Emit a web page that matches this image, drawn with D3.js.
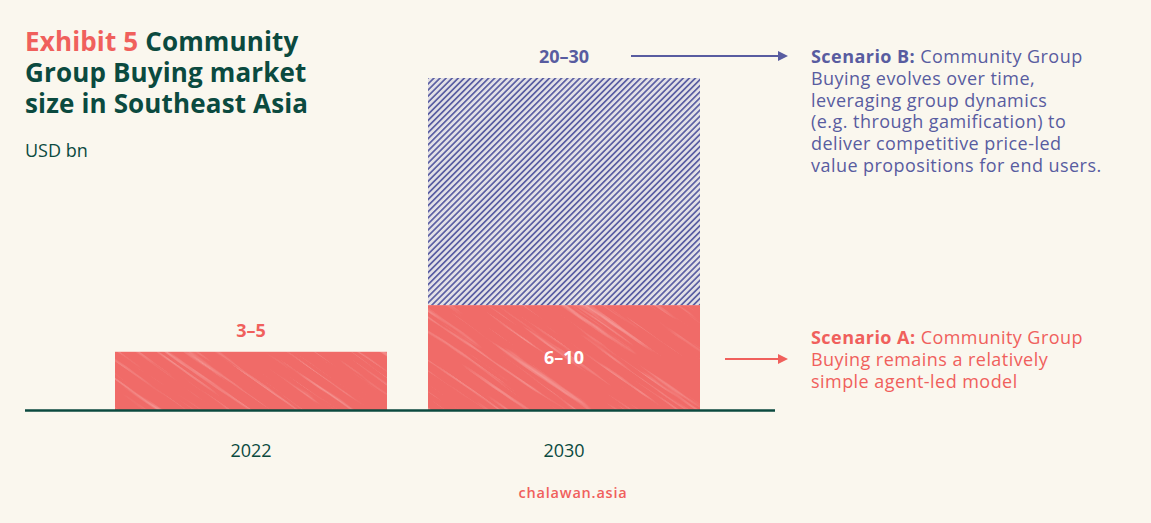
<!DOCTYPE html>
<html>
<head>
<meta charset="utf-8">
<script src="https://cdn.jsdelivr.net/npm/d3@7"></script>
<style>
  html, body { margin: 0; padding: 0; background: #faf7ee; }
  svg { display: block; font-family: "Open Sans", "Noto Sans", sans-serif; }
</style>
</head>
<body>
<svg id="chart"></svg>
<script>
// Data (USD bn, bar heights at range midpoints)
const years = ["2022", "2030"];
const scenarioA = [4.4, 7.9];      // base bar
const scenarioB = [0, 17.1];       // upside stacked on top
const labelsA = ["3–5", "6–10"];
const labelB = "20–30";
const titleLines = [
  [{ t: "Exhibit 5 ", c: "#f0605c" }, { t: "Community", c: "#0b4a3f" }],
  [{ t: "Group Buying market", c: "#0b4a3f" }],
  [{ t: "size in Southeast Asia", c: "#0b4a3f" }]
];
const noteB = [
  ["Scenario B:", " Community Group"],
  ["", "Buying evolves over time,"],
  ["", "leveraging group dynamics"],
  ["", "(e.g. through gamification) to"],
  ["", "deliver competitive price-led"],
  ["", "value propositions for end users."]
];
const noteA = [
  ["Scenario A:", " Community Group"],
  ["", "Buying remains a relatively"],
  ["", "simple agent-led model"]
];

const W = 1151, H = 523;
const green = "#0b4a3f", coral = "#f0605c", blue = "#585ca0";

const svg = d3.select("#chart").attr("width", W).attr("height", H);
svg.append("rect").attr("width", W).attr("height", H).attr("fill", "#faf7ee");

const defs = svg.append("defs");

// diagonal hatch for scenario B
const hatch = defs.append("pattern")
  .attr("id", "hatch")
  .attr("patternUnits", "userSpaceOnUse")
  .attr("width", 4.3).attr("height", 4.3)
  .attr("patternTransform", "rotate(45)");
hatch.append("rect").attr("width", 4.3).attr("height", 4.3).attr("fill", "#e2e0e6");
hatch.append("rect").attr("width", 1.7).attr("height", 4.3).attr("fill", "#5b5fa3");

// chalky streak texture for the coral bars
const f = defs.append("filter").attr("id", "streaks")
  .attr("x", 0).attr("y", 0).attr("width", 1).attr("height", 1);
f.append("feTurbulence").attr("type", "fractalNoise")
  .attr("baseFrequency", "0.008 0.25").attr("numOctaves", 4).attr("seed", 11);
f.append("feColorMatrix").attr("type", "matrix")
  .attr("values", "0 0 0 0 1  0 0 0 0 1  0 0 0 0 1  4 0 0 0 -2.3");

const x = d3.scaleBand()
  .domain(years)
  .range([94.5, 720.5])
  .paddingInner(0.131)
  .paddingOuter(0.0655);

const y = d3.scaleLinear()
  .domain([0, 25])
  .range([410, 78]);

const stacked = years.map((yr, i) => ({
  year: yr, a: scenarioA[i], b: scenarioB[i], label: labelsA[i]
}));

// scenario A bars
const barsA = svg.append("g");
stacked.forEach((d, i) => {
  const bx = x(d.year), bw = x.bandwidth();
  const by = y(d.a), bh = y(0) - y(d.a);
  const clipId = "clipA" + i;
  defs.append("clipPath").attr("id", clipId)
    .append("rect").attr("x", bx).attr("y", by).attr("width", bw).attr("height", bh);
  const g = barsA.append("g").attr("clip-path", `url(#${clipId})`);
  g.append("rect").attr("x", bx).attr("y", by).attr("width", bw).attr("height", bh)
    .attr("fill", "#f06b68");
  const cx = bx + bw / 2, cy = by + bh / 2;
  g.append("g").attr("transform", `rotate(35 ${cx} ${cy})`)
    .append("rect")
    .attr("x", cx - 300).attr("y", cy - 300).attr("width", 600).attr("height", 600)
    .attr("filter", "url(#streaks)").attr("opacity", 0.28);
});

// scenario B hatched upside
svg.append("g").selectAll("rect")
  .data(stacked.filter(d => d.b > 0))
  .join("rect")
  .attr("x", d => x(d.year))
  .attr("width", x.bandwidth())
  .attr("y", d => y(d.a + d.b))
  .attr("height", d => y(d.a) - y(d.a + d.b))
  .attr("fill", "url(#hatch)");

// baseline
svg.append("line")
  .attr("x1", 25).attr("x2", 775)
  .attr("y1", y(0) + 0.5).attr("y2", y(0) + 0.5)
  .attr("stroke", green).attr("stroke-width", 2.5);

// x axis labels
const xAxis = svg.append("g")
  .attr("transform", `translate(0, ${y(0)})`)
  .call(d3.axisBottom(x).tickSize(0).tickPadding(34));
xAxis.select(".domain").remove();
xAxis.selectAll("text")
  .attr("font-size", 18).attr("fill", green)
  .attr("font-family", "'Open Sans', sans-serif");

// value labels
const valueText = (tx, ty, color, txt) => svg.append("text")
  .attr("x", tx).attr("y", ty)
  .attr("text-anchor", "middle").attr("font-size", 18).attr("font-weight", 700)
  .attr("fill", color).text(txt);
valueText(x("2022") + x.bandwidth() / 2, y(scenarioA[0]) - 15, coral, labelsA[0]);
valueText(x("2030") + x.bandwidth() / 2, (y(scenarioA[1]) + y(0)) / 2 + 6, "#ffffff", labelsA[1]);
valueText(x("2030") + x.bandwidth() / 2, y(scenarioA[1] + scenarioB[1]) - 15, blue, labelB);

// arrows
function arrowMarker(id, color) {
  defs.append("marker").attr("id", id)
    .attr("viewBox", "0 0 10 10").attr("refX", 2).attr("refY", 5)
    .attr("markerWidth", 5).attr("markerHeight", 5).attr("orient", "auto")
    .attr("markerUnits", "strokeWidth")
    .append("path").attr("d", "M0,0 L10,5 L0,10 Z").attr("fill", color);
}
arrowMarker("arrB", blue);
arrowMarker("arrA", coral);
svg.append("line").attr("x1", 631).attr("x2", 780).attr("y1", 56).attr("y2", 56)
  .attr("stroke", blue).attr("stroke-width", 2).attr("marker-end", "url(#arrB)");
svg.append("line").attr("x1", 725).attr("x2", 780).attr("y1", 359).attr("y2", 359)
  .attr("stroke", coral).attr("stroke-width", 2).attr("marker-end", "url(#arrA)");

// annotation blocks
function note(lines, x0, y0, lh, color) {
  const t = svg.append("text").attr("x", x0).attr("y", y0)
    .attr("font-size", 18).attr("fill", color).attr("letter-spacing", 0.45);
  lines.forEach((l, i) => {
    const line = t.append("tspan").attr("x", x0).attr("dy", i === 0 ? 0 : lh);
    if (l[0]) line.append("tspan").attr("font-weight", 700).text(l[0]);
    line.append("tspan").text(l[1]);
  });
}
note(noteB, 811, 63, 21.8, blue);
note(noteA, 811, 344, 22, coral);

// title, one text per line
titleLines.forEach((parts, i) => {
  const line = svg.append("text").attr("x", 25).attr("y", 51 + i * 31)
    .attr("font-size", 26).attr("font-weight", 700).attr("letter-spacing", 0.15);
  parts.forEach(p => line.append("tspan").attr("fill", p.c).text(p.t));
});

svg.append("text").attr("x", 25).attr("y", 157)
  .attr("font-size", 18).attr("fill", green).text("USD bn");

// footer
svg.append("text").attr("x", 573).attr("y", 498)
  .attr("text-anchor", "middle").attr("font-size", 14.5).attr("font-weight", 600)
  .attr("letter-spacing", 0.8).attr("fill", coral).text("chalawan.asia");
</script>
</body>
</html>
